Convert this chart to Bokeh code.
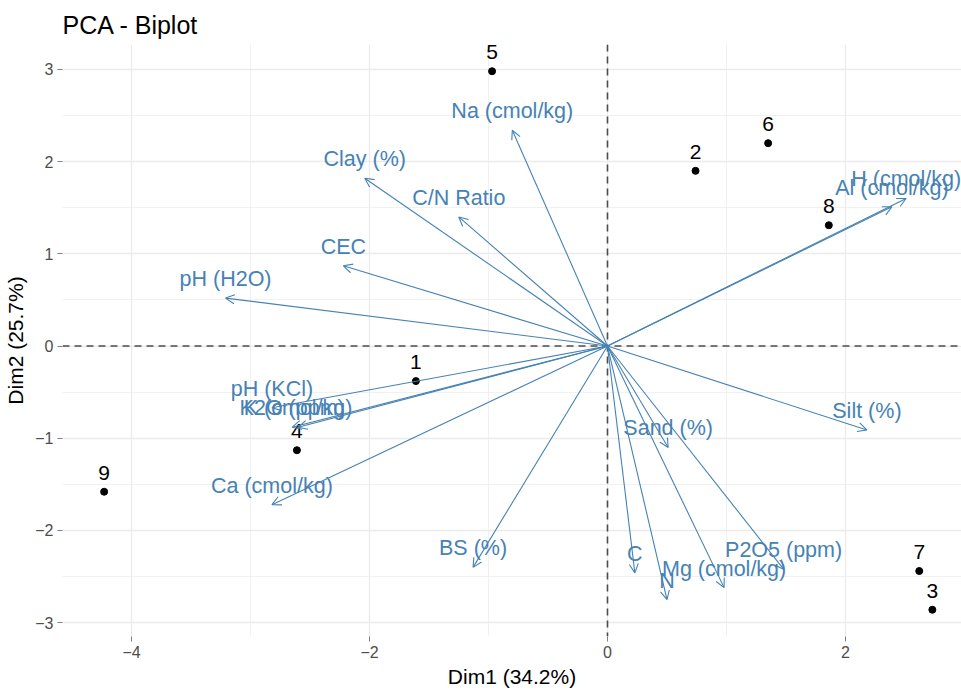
from bokeh.plotting import figure
from bokeh.models import (Arrow, OpenHead, ColumnDataSource, Span,
                          SingleIntervalTicker, Range1d)
from bokeh.core.properties import value
from bokeh.embed import file_html
from bokeh.resources import INLINE

# ---- data -------------------------------------------------------------
var_names = ["Na (cmol/kg)", "Clay (%)", "C/N Ratio", "CEC", "pH (H2O)",
             "H (cmol/kg)", "Al (cmol/kg)", "Silt (%)", "Sand (%)",
             "pH (KCl)", "K2O (ppm)", "K (cmol/kg)", "Ca (cmol/kg)",
             "BS (%)", "C", "N", "Mg (cmol/kg)", "P2O5 (ppm)"]
var_dim1 = [-0.80, -2.04, -1.25, -2.22, -3.21,
            2.51, 2.39, 2.18, 0.51,
            -2.82, -2.65, -2.60, -2.82,
            -1.13, 0.23, 0.50, 0.98, 1.48]
var_dim2 = [2.34, 1.82, 1.40, 0.87, 0.52,
            1.60, 1.51, -0.91, -1.10,
            -0.67, -0.88, -0.88, -1.72,
            -2.40, -2.46, -2.75, -2.62, -2.42]

ind_names = ["1", "2", "3", "4", "5", "6", "7", "8", "9"]
ind_dim1 = [-1.61, 0.74, 2.73, -2.61, -0.97, 1.35, 2.62, 1.86, -4.23]
ind_dim2 = [-0.38, 1.90, -2.86, -1.13, 2.98, 2.20, -2.44, 1.31, -1.58]

title_text = "PCA - Biplot"
xlab = "Dim1 (34.2%)"
ylab = "Dim2 (25.7%)"

# ---- styling ----------------------------------------------------------
FONT = "Liberation Sans"
STEEL = "#4682B4"

p = figure(width=961, height=692, output_backend="svg", toolbar_location=None,
           x_range=Range1d(-4.58, 2.975), y_range=Range1d(-3.15, 3.27),
           title=title_text,
           min_border_left=62, min_border_right=0,
           min_border_top=44, min_border_bottom=56)

p.outline_line_color = None
p.background_fill_color = "white"
p.border_fill_color = "white"

p.title.text_font = FONT
p.title.text_font_size = "25px"
p.title.text_font_style = "normal"
p.title.text_color = "black"
p.title.align = "left"
p.title.vertical_align = "top"
p.title.standoff = 8

p.xaxis.ticker = SingleIntervalTicker(interval=2, num_minor_ticks=2)
p.yaxis.ticker = SingleIntervalTicker(interval=1, num_minor_ticks=2)

for ax in (p.xaxis, p.yaxis):
    ax.axis_line_color = None
    ax.major_tick_line_color = "#7F7F7F"
    ax.major_tick_line_width = 1
    ax.major_tick_out = 5
    ax.major_tick_in = 0
    ax.minor_tick_line_color = None
    ax.major_label_text_font = FONT
    ax.major_label_text_font_size = "16px"
    ax.major_label_text_color = "#4D4D4D"
    ax.major_label_standoff = 4
    ax.axis_label_text_font = FONT
    ax.axis_label_text_font_size = "21px"
    ax.axis_label_text_font_style = "normal"
    ax.axis_label_text_color = "black"
    ax.axis_label_standoff = 4

p.yaxis.axis_label_standoff = 5
p.xaxis.axis_label = xlab
p.yaxis.axis_label = ylab
p.yaxis.major_label_orientation = "horizontal"

p.grid.grid_line_color = "#EBEBEB"
p.grid.grid_line_width = 1.3
p.grid.minor_grid_line_color = "#EBEBEB"
p.grid.minor_grid_line_width = 0.7

# zero lines
for dim in ("width", "height"):
    p.add_layout(Span(location=0, dimension=dim, line_color="#4D4D4D",
                      line_width=1.6, line_dash="7 5", level="underlay"))

# variable arrows
vsrc = ColumnDataSource(dict(
    x0=[0.0] * len(var_names), y0=[0.0] * len(var_names),
    x1=var_dim1, y1=var_dim2, name=var_names))
p.add_layout(Arrow(source=vsrc, x_start="x0", y_start="y0",
                   x_end="x1", y_end="y1",
                   line_color=STEEL, line_width=1.1,
                   end=OpenHead(size=9, line_color=STEEL, line_width=1.1)))

p.text(x="x1", y="y1", text="name", source=vsrc,
       text_font=value(FONT), text_font_size="21.5px", text_color=STEEL,
       text_align="center", text_baseline="middle", y_offset=-19)

# individuals
isrc = ColumnDataSource(dict(x=ind_dim1, y=ind_dim2, name=ind_names))
p.scatter(x="x", y="y", source=isrc, size=7, color="black")
p.text(x="x", y="y", text="name", source=isrc,
       text_font=value(FONT), text_font_size="21px", text_color="black",
       text_align="center", text_baseline="middle", y_offset=-19)

open("out.html", "w").write(file_html(p, INLINE))
